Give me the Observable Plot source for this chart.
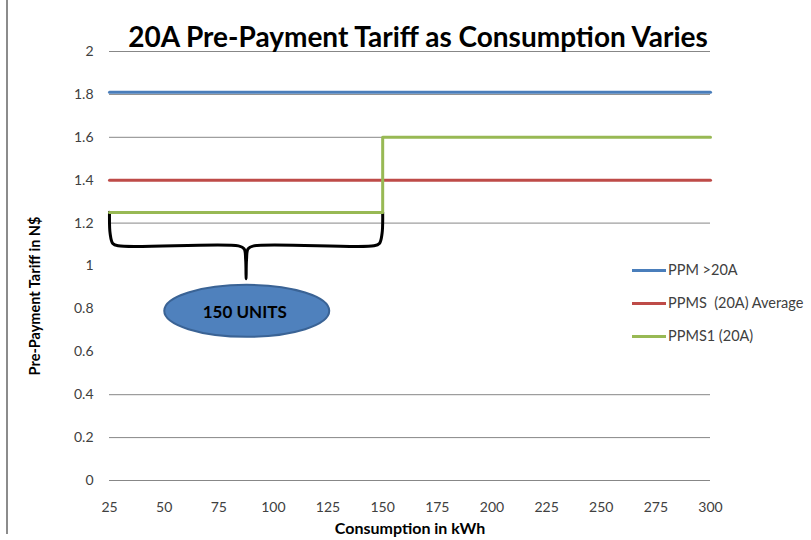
<!DOCTYPE html>
<html>
<head>
<meta charset="utf-8">
<script src="https://cdn.jsdelivr.net/npm/d3@7"></script>
<script src="https://cdn.jsdelivr.net/npm/@observablehq/plot@0.6"></script>
<style>
  body { margin: 0; background: #fff; }
  #chart { position: relative; width: 811px; height: 540px; overflow: hidden; font-family: Lato, sans-serif; }
  #chart .border { position: absolute; left: 6px; top: 0; width: 2px; height: 534px; background: #8c8c8c; }
  #legend { position: absolute; left: 632px; top: 260px; font-family: Lato, sans-serif; font-size: 14.5px; color: #404040; }
  #legend .item { position: absolute; left: 0; white-space: pre; height: 20px; line-height: 20px; }
  #legend .sw { position: absolute; left: 0; top: 8.5px; width: 34px; height: 3px; }
  #legend .lab { position: absolute; left: 36px; top: 0; white-space: pre; }
</style>
</head>
<body>
<div id="chart"><div class="border"></div></div>
<script>
// ---- Data ----
const title = "20A Pre-Payment Tariff as Consumption Varies";
const xLabel = "Consumption in kWh";
const yLabel = "Pre-Payment Tariff in N$";

const xTicks = [25, 50, 75, 100, 125, 150, 175, 200, 225, 250, 275, 300];
const yTicks = [0, 0.2, 0.4, 0.6, 0.8, 1, 1.2, 1.4, 1.6, 1.8, 2];
const gridValues = [0, 0.2, 0.4, 1.2, 1.4, 1.6, 1.8, 2];

const seriesNames = ["PPM >20A", "PPMS  (20A) Average", "PPMS1 (20A)"];
const seriesColors = ["#4a7ebb", "#be4b48", "#98b954"];

const consumption = [25, 50, 75, 100, 125, 150, 175, 200, 225, 250, 275, 300];
const ppmOver20A = [1.81, 1.81, 1.81, 1.81, 1.81, 1.81, 1.81, 1.81, 1.81, 1.81, 1.81, 1.81];
const ppmsAverage = [1.4, 1.4, 1.4, 1.4, 1.4, 1.4, 1.4, 1.4, 1.4, 1.4, 1.4, 1.4];
const ppms1Consumption = [25, 50, 75, 100, 125, 150, 150, 175, 200, 225, 250, 275, 300];
const ppms1 = [1.25, 1.25, 1.25, 1.25, 1.25, 1.25, 1.6, 1.6, 1.6, 1.6, 1.6, 1.6, 1.6];

// annotation (brace over the first 150 units, and the label bubble)
const braceX = [25, 25.3, 26.5, 29, 84, 86.6, 87.3, 87.5, 87.7, 88.4, 91, 146, 148.5, 149.7, 150];
const braceY = [1.25, 1.15, 1.105, 1.094, 1.094, 1.08, 1.03, 0.94, 1.03, 1.08, 1.094, 1.094, 1.105, 1.15, 1.25];
const bubbleX = [87.8];
const bubbleY = [0.791];
const bubbleText = ["150 UNITS"];

// ---- Build tables ----
const rows = (xs, ys) => xs.map((x, i) => ({x, y: ys[i]}));
const blueData = rows(consumption, ppmOver20A);
const redData = rows(consumption, ppmsAverage);
const greenData = rows(ppms1Consumption, ppms1);
const braceData = rows(braceX, braceY);
const bubbleData = rows(bubbleX, bubbleY).map((d, i) => ({...d, text: bubbleText[i]}));

const ellipseSymbol = {
  draw(context, size) {
    const r = Math.sqrt(size / Math.PI);
    const rx = r, ry = r * 0.315, k = 0.5523;
    context.moveTo(rx, 0);
    context.bezierCurveTo(rx, k * ry, k * rx, ry, 0, ry);
    context.bezierCurveTo(-k * rx, ry, -rx, k * ry, -rx, 0);
    context.bezierCurveTo(-rx, -k * ry, -k * rx, -ry, 0, -ry);
    context.bezierCurveTo(k * rx, -ry, rx, -k * ry, rx, 0);
    context.closePath();
  }
};

const chart = Plot.plot({
  width: 811,
  height: 540,
  marginLeft: 109,
  marginRight: 101,
  marginTop: 51,
  marginBottom: 60,
  style: {fontFamily: "Lato, sans-serif", fontSize: "14px", color: "#404040", background: "transparent"},
  x: {domain: [25, 300], ticks: xTicks, tickSize: 0, tickPadding: 22, label: null, tickFormat: d => String(d)},
  y: {domain: [0, 2], ticks: yTicks, tickSize: 0, tickPadding: 16, label: null, tickFormat: d => String(d)},
  marks: [
    Plot.ruleY(gridValues, {stroke: "#878787", strokeWidth: 1}),
    Plot.line(blueData, {x: "x", y: "y", stroke: seriesColors[0], strokeWidth: 3}),
    Plot.line(redData, {x: "x", y: "y", stroke: seriesColors[1], strokeWidth: 3}),
    Plot.line(braceData, {x: "x", y: "y", stroke: "#000", strokeWidth: 3, curve: "catmull-rom"}),
    Plot.line(greenData, {x: "x", y: "y", stroke: seriesColors[2], strokeWidth: 3}),
    Plot.dot(bubbleData, {x: "x", y: "y", r: 82.5, symbol: ellipseSymbol, fill: "#4f81bd", stroke: "#3a6395", strokeWidth: 2}),
    Plot.text(bubbleData, {x: "x", y: "y", text: "text", dx: -2, dy: 2, fill: "#000", fontSize: 17, fontWeight: "bold"}),
    Plot.text([title], {frameAnchor: "top", textAnchor: "middle", lineAnchor: "middle", dx: 8, dy: -13, fill: "#000", fontSize: 28, fontWeight: "bold"}),
    Plot.text([yLabel], {frameAnchor: "left", textAnchor: "middle", lineAnchor: "middle", rotate: -90, dx: -74, dy: 30, fill: "#000", fontSize: 14.5, fontWeight: "bold"}),
    Plot.text([xLabel], {frameAnchor: "bottom", textAnchor: "middle", lineAnchor: "middle", dy: 48, fill: "#000", fontSize: 16, fontWeight: "bold"})
  ]
});
const host = document.getElementById("chart");
host.appendChild(chart);

// legend
const legend = document.createElement("div");
legend.id = "legend";
const legendTops = [0, 33, 66];
seriesNames.forEach((name, i) => {
  const item = document.createElement("div");
  item.className = "item";
  item.style.top = legendTops[i] + "px";
  item.innerHTML = `<span class="sw" style="background:${seriesColors[i]}"></span><span class="lab"></span>`;
  item.querySelector(".lab").textContent = name;
  legend.appendChild(item);
});
host.appendChild(legend);
</script>
</body>
</html>
